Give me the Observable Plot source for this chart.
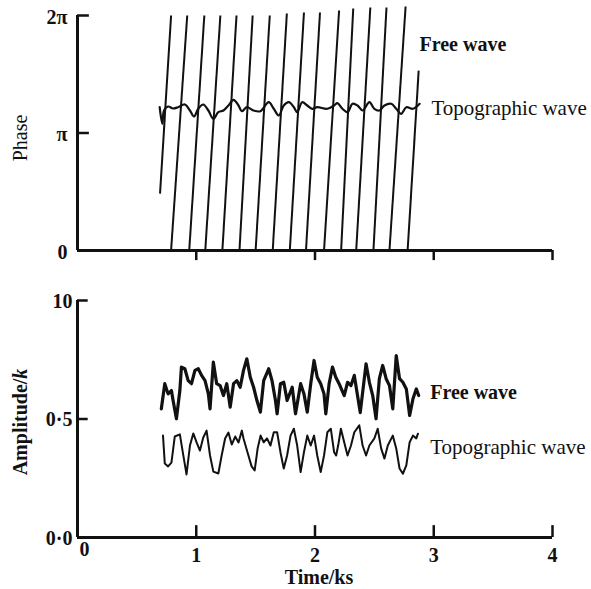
<!DOCTYPE html>
<html><head><meta charset="utf-8">
<script src="https://cdn.jsdelivr.net/npm/d3@7"></script>
<script src="https://cdn.jsdelivr.net/npm/@observablehq/plot@0.6"></script>
<style>
body{margin:0;background:#fff}
#chart svg{display:block;overflow:visible}
</style>
</head><body><div id="chart"></div>
<script>
const PI = Math.PI;
const INK = "#111";
const FONT = "Liberation Serif, Times New Roman, serif";

// ---- axes / ticks ----
const xTicks = [1, 2, 3, 4];
const xTickLabels = ["1", "2", "3", "4"];
const phaseTicks = [0, PI, 2 * PI];
const phaseTickLabels = ["0", "π", "2π"];
const ampTicks = [0, 0.5, 1];
const ampTickLabels = ["0·0", "0·5", "10"];

// ---- free wave phase (wrapped sawtooth): each rising segment ----
const freeStartT     = [0.695, 0.788, 0.941, 1.076, 1.220, 1.364, 1.500, 1.644, 1.788, 1.924, 2.076, 2.220, 2.347, 2.492, 2.627, 2.780];
const freeStartPhase = [1.52, 0, 0, 0, 0, 0, 0, 0, 0, 0, 0, 0, 0, 0, 0, 0];
const freeEndT       = [0.788, 0.924, 1.068, 1.203, 1.339, 1.475, 1.619, 1.763, 1.907, 2.042, 2.203, 2.322, 2.466, 2.602, 2.763, 2.873];
const freeEndPhase   = [6.283, 6.283, 6.283, 6.283, 6.283, 6.283, 6.283, 6.337, 6.363, 6.363, 6.417, 6.470, 6.497, 6.497, 6.524, 4.81];

// ---- topographic wave phase ----
const topoPhaseT = [0.692,0.714,0.729,0.763,0.805,0.847,0.904,0.947,0.981,1.017,1.059,1.102,1.144,1.186,1.229,1.271,1.314,1.356,1.384,1.426,1.483,1.540,1.610,1.653,1.695,1.737,1.780,1.822,1.850,1.892,1.935,1.977,2.019,2.104,2.161,2.189,2.231,2.274,2.316,2.358,2.401,2.458,2.500,2.542,2.585,2.642,2.684,2.726,2.769,2.825,2.881];
const topoPhaseV = [3.831,3.388,3.743,3.850,3.797,3.831,3.904,3.743,3.583,3.789,3.904,3.743,3.521,3.698,3.743,3.877,4.029,3.877,3.724,3.831,3.743,3.724,3.965,3.789,3.609,3.877,3.965,3.831,3.698,3.965,3.877,3.789,3.831,3.789,3.877,3.938,3.789,3.698,3.922,3.877,3.743,3.965,3.789,3.743,3.877,3.922,3.789,3.655,3.831,3.789,3.922];

// ---- free wave amplitude ----
const freeAmpT = [0.706,0.735,0.763,0.791,0.805,0.833,0.862,0.875,0.904,0.932,0.960,0.989,1.017,1.045,1.074,1.102,1.116,1.144,1.172,1.201,1.229,1.257,1.286,1.314,1.342,1.370,1.398,1.426,1.455,1.483,1.511,1.540,1.568,1.610,1.638,1.667,1.681,1.709,1.737,1.765,1.808,1.836,1.879,1.907,1.935,1.964,1.992,2.019,2.048,2.076,2.091,2.119,2.147,2.175,2.203,2.246,2.274,2.303,2.331,2.358,2.381,2.430,2.458,2.486,2.514,2.542,2.570,2.599,2.627,2.655,2.684,2.712,2.740,2.769,2.797,2.825,2.853,2.873];
const freeAmpV = [0.543,0.649,0.606,0.620,0.578,0.501,0.620,0.719,0.712,0.662,0.649,0.705,0.712,0.684,0.662,0.606,0.543,0.740,0.649,0.641,0.599,0.649,0.550,0.649,0.662,0.634,0.705,0.754,0.676,0.634,0.578,0.529,0.662,0.712,0.662,0.578,0.522,0.649,0.655,0.578,0.634,0.522,0.649,0.606,0.529,0.649,0.747,0.676,0.649,0.606,0.522,0.649,0.719,0.676,0.649,0.599,0.655,0.641,0.684,0.599,0.527,0.733,0.655,0.599,0.501,0.670,0.726,0.670,0.641,0.543,0.768,0.670,0.655,0.627,0.515,0.585,0.627,0.599];

// ---- topographic wave amplitude ----
const topoAmpT = [0.720,0.735,0.763,0.791,0.819,0.862,0.890,0.918,0.947,0.975,1.003,1.031,1.059,1.087,1.116,1.144,1.186,1.214,1.243,1.271,1.299,1.328,1.356,1.384,1.398,1.432,1.466,1.492,1.517,1.542,1.568,1.596,1.625,1.653,1.681,1.709,1.737,1.765,1.794,1.822,1.850,1.879,1.907,1.935,1.964,1.992,2.019,2.048,2.076,2.104,2.133,2.161,2.178,2.195,2.218,2.246,2.274,2.303,2.331,2.373,2.401,2.430,2.458,2.500,2.528,2.557,2.585,2.613,2.655,2.684,2.712,2.740,2.769,2.797,2.825,2.853,2.867];
const topoAmpV = [0.430,0.312,0.300,0.316,0.426,0.435,0.350,0.266,0.388,0.439,0.401,0.367,0.422,0.451,0.346,0.278,0.270,0.346,0.418,0.443,0.392,0.426,0.401,0.451,0.418,0.359,0.300,0.283,0.376,0.430,0.402,0.418,0.388,0.444,0.444,0.360,0.291,0.346,0.430,0.459,0.388,0.276,0.360,0.430,0.388,0.430,0.346,0.276,0.346,0.444,0.459,0.360,0.346,0.388,0.459,0.402,0.346,0.388,0.444,0.473,0.388,0.346,0.388,0.418,0.459,0.376,0.333,0.388,0.430,0.376,0.291,0.269,0.304,0.402,0.430,0.418,0.438];

// ---- series labels ----
const phaseLabelText = ["Free wave", "Topographic wave"];
const phaseLabelT = [2.88, 2.98];
const phaseLabelV = [5.51, 3.80];
const phaseLabelWeight = ["bold", "normal"];
const phaseLabelSize = [20, 21];
const ampLabelText = ["Free wave", "Topographic wave"];
const ampLabelT = [2.97, 2.97];
const ampLabelV = [0.612, 0.380];
const ampLabelWeight = ["bold", "normal"];
const ampLabelSize = [20, 21];

// ---- tables ----
const freeSegments = freeStartT.map((t, i) => ({t0: t, p0: freeStartPhase[i], t1: freeEndT[i], p1: freeEndPhase[i]}));
const topoPhase = topoPhaseT.map((t, i) => ({t, v: topoPhaseV[i]}));
const freeAmp = freeAmpT.map((t, i) => ({t, v: freeAmpV[i]}));
const topoAmp = topoAmpT.map((t, i) => ({t, v: topoAmpV[i]}));

const W = 591;
const common = {width: W, marginLeft: 77, marginRight: 39,
  x: {domain: [0, 4], axis: null},
  style: {fontFamily: FONT, background: "white", color: INK}};

function labelMarks(texts, ts, vs, weights, sizes) {
  return texts.map((s, i) => Plot.text([s], {x: ts[i], y: vs[i], text: d => d, textAnchor: "start",
    fontSize: sizes[i], fontWeight: weights[i], fill: INK}));
}

const topPlot = Plot.plot({
  ...common, height: 280, marginTop: 15, marginBottom: 30,
  y: {domain: [0, 2 * PI], axis: null},
  marks: [
    Plot.link(freeSegments, {x1: "t0", y1: "p0", x2: "t1", y2: "p1", stroke: INK, strokeWidth: 2}),
    Plot.line(topoPhase, {x: "t", y: "v", stroke: INK, strokeWidth: 2.2, curve: "catmull-rom"}),
    Plot.ruleX([0], {y1: 0, y2: 2 * PI, stroke: INK, strokeWidth: 3}),
    Plot.ruleY([0], {x1: 0, x2: 4, stroke: INK, strokeWidth: 3}),
    Plot.ruleY(phaseTicks.slice(1), {x1: 0, x2: 0.1, stroke: INK, strokeWidth: 2.5}),
    Plot.ruleX(xTicks, {y1: 0, y2: -0.27, stroke: INK, strokeWidth: 2.5}),
    Plot.text(phaseTicks, {x: 0, y: d => d, text: (d, i) => phaseTickLabels[i], textAnchor: "end", dx: -10, dy: 2,
      fontSize: 20, fontWeight: "bold", fill: INK}),
    Plot.text(["Phase"], {frameAnchor: "left", text: d => d, textAnchor: "middle", rotate: -90, dx: -57, dy: 5,
      fontSize: 20, fill: INK}),
    ...labelMarks(phaseLabelText, phaseLabelT, phaseLabelV, phaseLabelWeight, phaseLabelSize)
  ]
});

const bottomPlot = Plot.plot({
  ...common, height: 309, marginTop: 20, marginBottom: 52,
  y: {domain: [0, 1], axis: null},
  marks: [
    Plot.line(freeAmp, {x: "t", y: "v", stroke: INK, strokeWidth: 3.2, strokeLinejoin: "round"}),
    Plot.line(topoAmp, {x: "t", y: "v", stroke: INK, strokeWidth: 2, strokeLinejoin: "round"}),
    Plot.ruleX([0], {y1: 0, y2: 1, stroke: INK, strokeWidth: 3}),
    Plot.ruleY([0], {x1: 0, x2: 4, stroke: INK, strokeWidth: 3}),
    Plot.ruleY(ampTicks.slice(1), {x1: 0, x2: 0.09, stroke: INK, strokeWidth: 2.5}),
    Plot.ruleX(xTicks, {y1: 0, y2: 0.05, stroke: INK, strokeWidth: 2.5}),
    Plot.text(ampTicks, {x: 0, y: d => d, text: (d, i) => ampTickLabels[i], textAnchor: "end", dx: -5, dy: 1,
      fontSize: 20, fontWeight: "bold", fill: INK}),
    Plot.text(xTicks, {x: d => d, y: 0, text: (d, i) => xTickLabels[i], dy: 18, fontSize: 20, fontWeight: "bold", fill: INK}),
    Plot.text([0], {x: 0, y: 0, text: () => "0", dx: 7, dy: 12, fontSize: 20, fontWeight: "bold", fill: INK}),
    Plot.text(["Time/ks"], {x: 2, y: 0, text: d => d, dx: 4, dy: 40, fontSize: 20, fontWeight: "bold", fill: INK}),
    Plot.text(["Amplitude/k"], {frameAnchor: "left", text: d => d, textAnchor: "middle", rotate: -90, dx: -57, dy: 3,
      fontSize: 20, fontWeight: "bold", fill: INK}),
    ...labelMarks(ampLabelText, ampLabelT, ampLabelV, ampLabelWeight, ampLabelSize)
  ]
});

// italic k in the amplitude label
bottomPlot.querySelectorAll("text").forEach(t => {
  if (t.textContent === "Amplitude/k") {
    t.textContent = "Amplitude/";
    const ts = document.createElementNS("http://www.w3.org/2000/svg", "tspan");
    ts.setAttribute("font-style", "italic");
    ts.textContent = "k";
    t.appendChild(ts);
  }
});

const chart = document.getElementById("chart");
chart.appendChild(topPlot);
chart.appendChild(bottomPlot);
</script>
</body></html>
